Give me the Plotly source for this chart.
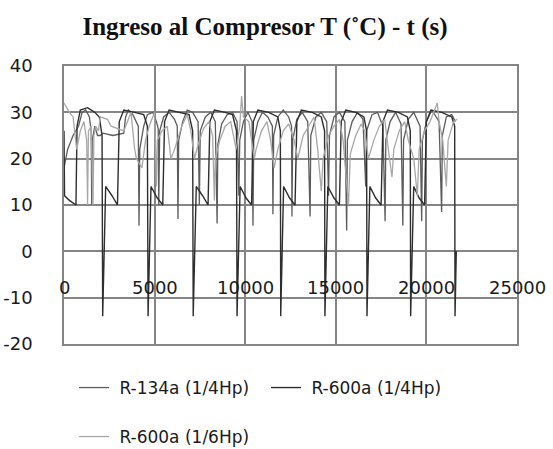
import plotly.graph_objects as go

# Compressor inlet temperature (°C) over time (s) for three refrigerant setups
r134a_t = [0, 200, 500, 800, 1000, 1200, 1400, 1500, 1530, 1560, 1700, 1850, 2000, 2150,
           2700, 3300, 3400, 3550, 3800, 4100, 4140, 4180, 4400, 4600, 4900, 5100, 5200,
           5230, 5280, 5500, 5800, 6100, 6250, 6290, 6330, 6550, 6800, 7100, 7400, 7470,
           7520, 7800, 8100, 8350, 8450, 8490, 8700, 9000, 9300, 9550, 9650, 9700, 9900,
           10150, 10380, 10430, 10470, 10700, 10950, 11250, 11500, 11530, 11570, 11800,
           12100, 12400, 12560, 12580, 12620, 12850, 13150, 13450, 13580, 13620, 13900,
           14200, 14500, 14600, 14650, 14900, 15200, 15500, 15600, 15640, 15900, 16200,
           16500, 16650, 16700, 17000, 17300, 17600, 17720, 17760, 18000, 18300, 18600,
           18700, 18740, 19000, 19300, 19650, 19740, 19780, 20000, 20300, 20700, 20840,
           20880, 21100, 21400, 21600]
r134a_T = [18, 22, 25, 27, 30, 30.5, 29, 26, 10, 24, 27, 25, 25, 25.5,
           25, 25.5, 29, 30.5, 29.5, 27, 5.5, 22, 27, 29.5, 30, 28, 26.5,
           10, 26, 29, 30, 28.5, 27, 7, 24, 28, 30.5, 30, 28, 10,
           26, 29, 30, 28, 6, 23, 27.5, 29.5, 30, 28, 12, 24, 28,
           30, 28, 5.5, 24, 28, 30, 29, 27, 8, 25, 29,
           30.5, 29, 27, 7.5, 24, 28.5, 30, 28, 7.5, 25, 29,
           30, 28, 12, 25, 29, 30, 28, 4.5, 24, 28, 30,
           28.5, 14, 26, 29.5, 30, 27, 6.5, 24, 28, 30, 27.5,
           5.5, 24, 28.5, 30, 27, 6.5, 24, 28, 30.5, 28, 8.5,
           25, 29, 29.5, 28]

r600a_q_t = [0, 30, 300, 660, 720, 900, 1300, 1700, 1950, 2100, 2135, 2300, 2650, 2950,
             3050, 3300, 3900, 4400, 4600, 4640, 4800, 5150, 5450, 5550, 5800, 6400, 6900,
             7100, 7130, 7300, 7650, 7950, 8050, 8300, 8900, 9300, 9520, 9550, 9720, 10050,
             10350, 10450, 10700, 11300, 11800, 11940, 11960, 12120, 12450, 12750, 12850,
             13100, 13700, 14200, 14380, 14400, 14560, 14900, 15200, 15300, 15550, 16100,
             16550, 16700, 16720, 16880, 17200, 17500, 17600, 17850, 18450, 18950, 19110,
             19130, 19300, 19600, 19900, 20000, 20250, 20850, 21400, 21560, 21580, 21650]
r600a_q_T = [26, 12, 11, 10, 27, 30.5, 31, 30, 29, 25, -14, 14, 12, 10,
             28, 30.5, 30, 29.5, 27, -14, 14, 11.5, 10, 28, 30.5, 30, 29.5,
             26, -14, 14, 12, 10, 28, 30.5, 30, 29.5, 26, -14, 14, 11.5,
             10, 28, 30.5, 30, 29, 26, -14, 14, 11.5, 10, 28,
             30.5, 30, 29, 26, -14, 14, 11.5, 10, 28, 30.5, 30,
             29, 26, -14, 14, 11.5, 10, 28, 30.5, 30, 29, 26,
             -14, 14, 11.5, 10, 28, 30.5, 30, 29, 27, -14, 0]

r600a_s_t = [0, 300, 500, 700, 900, 1100, 1250, 1300, 1350, 1500, 1600, 1650, 1750, 1900,
             2000, 2400, 2600, 2900, 3300, 3600, 3700, 3900, 4000, 4300, 4500, 4700, 4900,
             5000, 5100, 5150, 5400, 5700, 5900, 6100, 6500, 6800, 7000, 7200, 7400, 7700,
             8000, 8200, 8300, 8350, 8600, 8900, 9200, 9500, 9700, 9800, 9900, 10200, 10500,
             10600, 10900, 11200, 11400, 11600, 11800, 12100, 12400, 12700, 12900, 13200,
             13500, 13800, 14000, 14200, 14300, 14600, 14900, 15200, 15400, 15700, 15800,
             16100, 16400, 16600, 16800, 17100, 17400, 17700, 17900, 18100, 18200, 18500,
             18800, 19000, 19300, 19500, 19600, 19900, 20200, 20400, 20600, 20700, 20900,
             21100, 21200, 21500, 21700]
r600a_s_T = [32, 30, 29, 22, 26, 28, 24, 10, 26, 27, 10, 25, 27, 26,
             29, 28.5, 27, 26.5, 26, 29, 30, 22, 20, 18, 24, 27, 29,
             30, 14, 24, 26, 27, 20, 22, 27, 29.5, 26, 20, 23, 26.5,
             28, 25, 11, 20, 24, 27, 28, 22, 27, 33.5, 29, 28, 20,
             22, 26, 28, 24, 18, 22, 26, 27.5, 24, 20, 25,
             27, 29, 22, 13, 20, 25, 27, 28.5, 24, 10, 21,
             25, 27.5, 26, 20, 24, 27, 28.5, 22, 16, 22, 26,
             28, 24, 20, 12, 22, 26, 28, 30, 32, 28, 24,
             14, 24, 28, 28.5]

series_names = ["R-134a (1/4Hp)", "R-600a (1/4Hp)", "R-600a (1/6Hp)"]
series_colors = ["#5c5c5c", "#2e2e2e", "#a8a8a8"]

x_ticks = [0, 5000, 10000, 15000, 20000, 25000]
x_tick_labels = ["0", "5000", "10000", "15000", "20000", "25000"]
y_ticks = [-20, -10, 0, 10, 20, 30, 40]
y_tick_labels = ["-20", "-10", "0", "10", "20", "30", "40"]
x_label_level = -7.7  # x tick labels sit just above the -10 gridline

W, H = 553, 449
tick_font = dict(family="DejaVu Sans, sans-serif", size=18, color="#1a1a1a")
legend_font = dict(family="DejaVu Sans, sans-serif", size=17, color="#1a1a1a")
grid_col = "#858585"
pad = "\u00a0"  # small gap between legend swatch and its label

fig = go.Figure()
fig.add_trace(go.Scatter(x=r134a_t, y=r134a_T, mode="lines", name=pad + series_names[0],
                         line=dict(color=series_colors[0], width=1.3), legend="legend"))
fig.add_trace(go.Scatter(x=r600a_q_t, y=r600a_q_T, mode="lines", name=pad + series_names[1],
                         line=dict(color=series_colors[1], width=1.4), legend="legend"))
fig.add_trace(go.Scatter(x=r600a_s_t, y=r600a_s_T, mode="lines", name=pad + series_names[2],
                         line=dict(color=series_colors[2], width=1.3), legend="legend2"))

for xv, lab in zip(x_ticks, x_tick_labels):
    fig.add_annotation(x=xv, y=x_label_level, text=lab, showarrow=False,
                       xanchor="center", yanchor="middle", font=tick_font)

fig.update_layout(
    width=W, height=H,
    margin=dict(l=64, r=36, t=66, b=105, autoexpand=False),
    paper_bgcolor="white", plot_bgcolor="white",
    title=dict(text="<b>Ingreso al Compresor T (˚C) - t (s)</b>",
               font=dict(family="Liberation Serif, Times New Roman, serif", size=25, color="#111"),
               x=265 / W, xref="container", xanchor="center",
               y=1 - 26 / H, yref="container", yanchor="middle"),
    xaxis=dict(range=[0, 25000], tickvals=x_ticks, showticklabels=False,
               showgrid=True, gridcolor=grid_col, gridwidth=1.5,
               showline=True, linecolor=grid_col, linewidth=1.5, mirror=True,
               zeroline=False, ticks=""),
    yaxis=dict(range=[-20, 40], tickvals=y_ticks, ticktext=y_tick_labels, tickfont=tick_font,
               showgrid=True, gridcolor=grid_col, gridwidth=1.5,
               showline=True, linecolor=grid_col, linewidth=1.5, mirror=True,
               zeroline=False, ticks="", ticklabelstandoff=26),
    legend=dict(orientation="h", x=74 / W, xref="container", xanchor="left",
                y=1 - 388 / H, yref="container", yanchor="middle",
                font=legend_font, entrywidth=147, entrywidthmode="pixels",
                bgcolor="rgba(0,0,0,0)", itemwidth=30),
    legend2=dict(orientation="h", x=74 / W, xref="container", xanchor="left",
                 y=1 - 437 / H, yref="container", yanchor="middle",
                 font=legend_font, bgcolor="rgba(0,0,0,0)", itemwidth=30),
    showlegend=True,
)

fig.write_html("out.html")
